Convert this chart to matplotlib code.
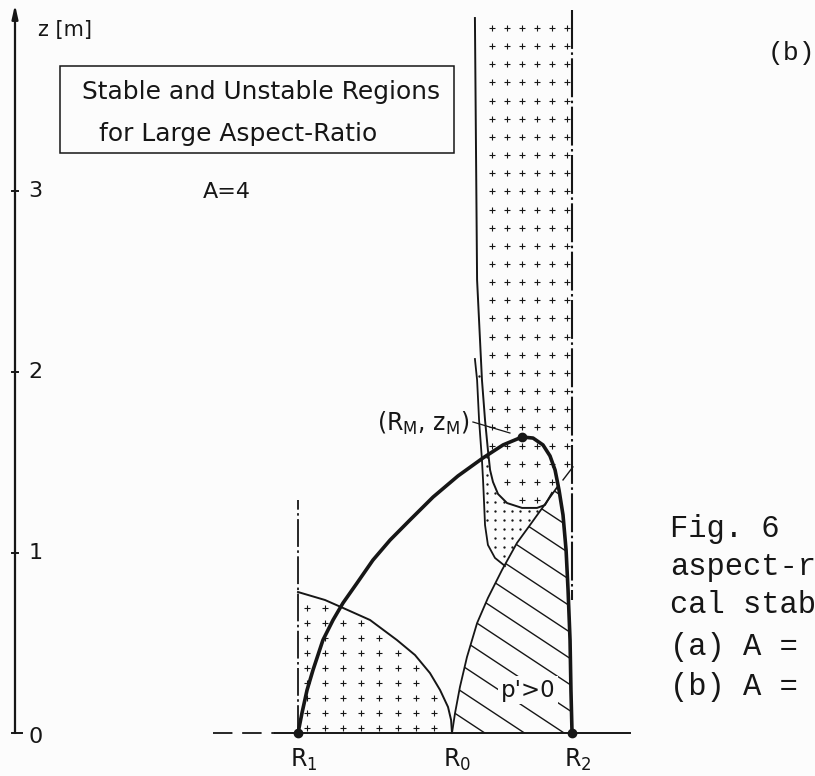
import matplotlib as mpl
import matplotlib.pyplot as plt
import numpy as np
from matplotlib.path import Path
from matplotlib.patches import Polygon, Rectangle

mpl.use('Agg')
mpl.rcParams['lines.scale_dashes'] = False
mpl.rcParams['font.family'] = ['DejaVu Sans']

INK = '#161616'
PAPER = '#fcfcfc'

# midplane radii [m] and the top of the boundary
R1, R0, R2 = 1.568, 2.421, 3.086
RM, ZM = 2.809, 1.640
z_ticks = [0, 1, 2, 3]

# plasma boundary R1 -> (RM, zM) -> R2
bnd_R = [1.568, 1.590, 1.618, 1.651, 1.706, 1.762, 1.817, 1.895, 1.983, 2.078,
         2.188, 2.316, 2.454, 2.593, 2.704, 2.809, 2.870, 2.925, 2.964, 2.992,
         3.014, 3.036, 3.053, 3.064, 3.075, 3.080, 3.086]
bnd_z = [0.000, 0.111, 0.238, 0.349, 0.515, 0.626, 0.720, 0.831, 0.958, 1.069,
         1.180, 1.307, 1.424, 1.524, 1.596, 1.640, 1.634, 1.596, 1.535, 1.457,
         1.346, 1.208, 1.014, 0.792, 0.515, 0.238, 0.000]

# stability limit of the inner region (R1 .. R0)
stab_R = [1.568, 1.717, 1.817, 1.967, 2.116, 2.216, 2.299, 2.355, 2.399, 2.416, 2.421]
stab_z = [0.781, 0.737, 0.693, 0.626, 0.515, 0.432, 0.332, 0.238, 0.144, 0.072, 0.000]

# p' > 0 limit starting at R0
pp_R = [2.421, 2.438, 2.465, 2.504, 2.560, 2.620, 2.698, 2.781, 2.853, 2.925, 2.981, 3.008]
pp_z = [0.000, 0.111, 0.255, 0.421, 0.609, 0.748, 0.903, 1.053, 1.152, 1.252, 1.330, 1.368]

# left edge of the outer unstable column, ending in the U-shaped bottom
col_R = [2.548, 2.554, 2.560, 2.587, 2.604, 2.620, 2.632, 2.648, 2.676, 2.726,
         2.809, 2.892, 2.936, 2.975]
col_z = [3.961, 3.230, 2.510, 1.956, 1.734, 1.568, 1.457, 1.391, 1.324, 1.274,
         1.247, 1.247, 1.263, 1.330]

# left edge of the dotted strip
strip_R = [2.548, 2.560, 2.571, 2.587, 2.593, 2.598, 2.604, 2.620, 2.659, 2.715]
strip_z = [2.072, 1.956, 1.734, 1.512, 1.402, 1.291, 1.152, 1.042, 0.970, 0.925]

# vertical dash-dot limits
r1_line_top = 1.291
r2_line = (4.006, 0.737)


def inside(poly_R, poly_z, R, z, pad):
    path = Path(np.column_stack([poly_R, poly_z]))
    pts = np.column_stack([np.ravel(R), np.ravel(z)])
    ok = np.ones(len(pts), bool)
    for dx, dy in [(pad, 0), (-pad, 0), (0, pad), (0, -pad)]:
        ok &= path.contains_points(pts + [dx, dy])
    return pts[ok]


fig = plt.figure(figsize=(8.15, 7.76), dpi=100, facecolor=PAPER)
ax = fig.add_axes([0, 0, 1, 1])
ax.set_facecolor(PAPER)
ax.set_xlim(-0.0831, 4.4321)
ax.set_ylim(-0.2382, 4.0609)
ax.axis('off')

# ---- plus pattern: inner region
gR, gz = np.meshgrid(1.618 + 0.1003 * np.arange(8), 0.693 - 0.0831 * np.arange(9))
pts = inside([R1] + stab_R, [0.0] + stab_z, gR, gz, 0.022)
ax.plot(pts[:, 0], pts[:, 1], '+', color=INK, ms=4.4, mew=0.8, ls='none')

# ---- plus pattern: outer column
cR = col_R + [3.008, 3.064, R2, R2]
cz = col_z + [1.368, 1.420, 1.474, 4.06]
gR, gz = np.meshgrid(2.643 + 0.0831 * np.arange(6), 3.906 - 0.1006 * np.arange(27))
pts = inside(cR, cz, gR, gz, 0.02)
ax.plot(pts[:, 0], pts[:, 1], '+', color=INK, ms=4.4, mew=0.8, ls='none')

# ---- dotted strip
dR = strip_R + [2.781, 2.853, 2.925] + col_R[::-1][:11] + [2.571]
dz = strip_z + [1.053, 1.152, 1.252] + col_z[::-1][:11] + [2.072]
gR, gz = np.meshgrid(2.569 + 0.046 * np.arange(11), 0.93 + 0.05 * np.arange(24))
pts = inside(dR, dz, gR, gz, 0.008)
ax.plot(pts[:, 0], pts[:, 1], 'o', color=INK, ms=1.7, mew=0, ls='none')

# ---- hatched region p' > 0
hR = pp_R + bnd_R[20:]
hz = pp_z + bnd_z[20:]
clip = Polygon(np.column_stack([hR, hz]), closed=True, fill=False,
               edgecolor='none', transform=ax.transData)
ax.add_patch(clip)
slope = 0.66
for c in 0.12 + 0.145 * np.arange(-2, 12):
    hx = np.array([2.3, 3.3])
    ln, = ax.plot(hx, c - slope * (hx - R0), color=INK, lw=1.0)
    ln.set_clip_path(clip)

# ---- region boundaries
ax.plot(stab_R, stab_z, color=INK, lw=1.4)
ax.plot(pp_R, pp_z, color=INK, lw=1.3)
ax.plot(col_R, col_z, color=INK, lw=1.4)
ax.plot(strip_R, strip_z, color=INK, lw=1.3)
ax.plot([R1, R1], [0, r1_line_top], color=INK, lw=1.3, dashes=(20, 2.5, 1.8, 2.5))
ax.plot([R2, R2], list(r2_line), color=INK, lw=1.5, dashes=(28, 2.5, 1.8, 2.5))
ax.plot([3.036, 3.091], [1.402, 1.474], color=INK, lw=1.0)

# midplane
ax.plot([1.097, 1.44], [0, 0], color=INK, lw=1.3, dashes=(14, 7))
ax.plot([1.44, 3.407], [0, 0], color=INK, lw=1.4)

# plasma boundary
ax.plot(bnd_R, bnd_z, color=INK, lw=2.6, solid_capstyle='round', solid_joinstyle='round')
ax.plot([R1, R2, RM], [0, 0, ZM], 'o', color=INK, ms=6, ls='none')
ax.plot([2.537, 2.742], [1.723, 1.662], color=INK, lw=0.9)

# ---- z axis
ax.annotate('', xy=(0, 4.035), xytext=(0, 0),
            arrowprops=dict(arrowstyle='-|>,head_length=0.8,head_width=0.18',
                            lw=1.6, color=INK, shrinkA=0, shrinkB=0))
for t in z_ticks:
    if t == 0:
        ax.plot([-0.017, 0.039], [0, 0], color=INK, lw=1.4)
    else:
        ax.plot([-0.017, 0.017], [t, t], color=INK, lw=1.4)
    ax.text(0.075, t - (0.02 if t == 0 else 0), str(t), fontsize=16,
            ha='left', va='center', color=INK)
ax.text(0.0466, 0.9613, 'z [m]', transform=ax.transAxes, fontsize=15,
        ha='left', va='center', color=INK)

# ---- labels
kw = dict(color=INK, ha='center', va='center', fontsize=17)
ax.text(R1 + 0.03, -0.15, r'R$_\mathregular{1}$', **kw)
ax.text(R0 + 0.03, -0.15, r'R$_\mathregular{0}$', **kw)
ax.text(R2 + 0.03, -0.15, r'R$_\mathregular{2}$', **kw)
ax.text(2.521, 1.717, r'(R$_\mathregular{M}$, z$_\mathregular{M}$)', color=INK,
        ha='right', va='center', fontsize=17)
ax.text(2.842, 0.238, "p'>0", color=INK, ha='center', va='center', fontsize=16.5,
        bbox=dict(boxstyle='square,pad=0.1', fc=PAPER, ec='none'))

ax.add_patch(Rectangle((0.0736, 0.8028), 0.4834, 0.1121, transform=ax.transAxes,
                       fill=False, lw=1.1, ec=INK))
ax.text(0.1006, 0.8814, 'Stable and Unstable Regions', transform=ax.transAxes,
        fontsize=17.9, ha='left', va='center', color=INK)
ax.text(0.1215, 0.8273, 'for Large Aspect-Ratio', transform=ax.transAxes,
        fontsize=17.9, ha='left', va='center', color=INK)
ax.text(0.2491, 0.7526, 'A=4', transform=ax.transAxes,
        fontsize=16, ha='left', va='center', color=INK)

# ---- panel tag and caption
mono = dict(family=['Liberation Mono', 'DejaVu Sans Mono'], color=INK,
            transform=ax.transAxes, ha='left')
ax.text(0.9423, 0.932, '(b)', fontsize=19, va='center', **mono)
caption = ['Fig. 6', 'aspect-r', 'cal stab', '(a) A =', '(b) A =']
for line, y in zip(caption, [0.308, 0.259, 0.210, 0.156, 0.104]):
    ax.text(0.822, y, line, fontsize=22, va='baseline', **mono)

fig.savefig('out.png', dpi=100, facecolor=PAPER)
